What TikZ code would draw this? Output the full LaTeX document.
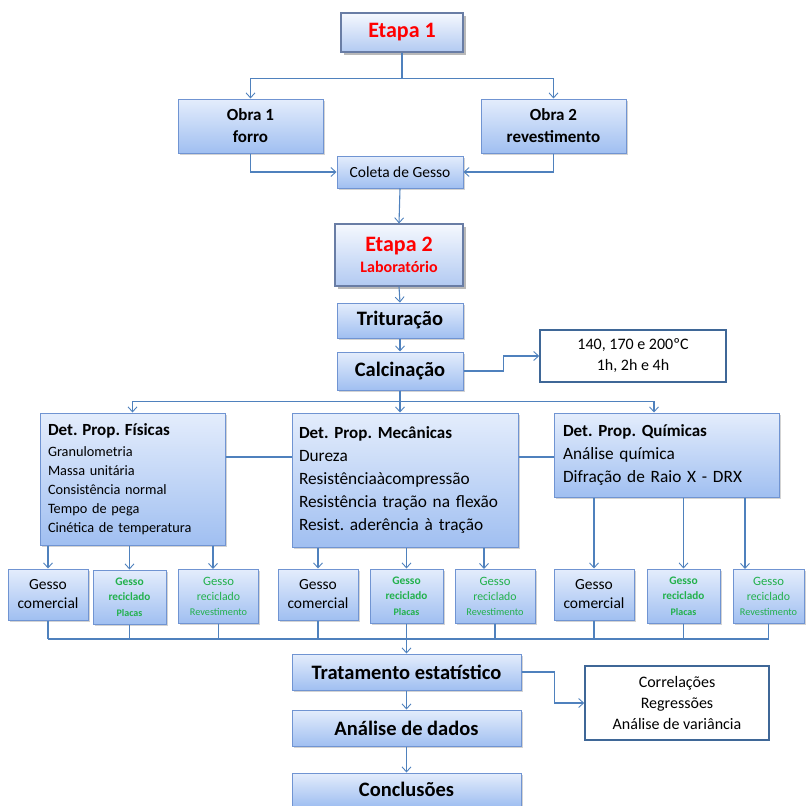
\documentclass[tikz,border=0pt]{standalone}
\usepackage{fontspec}
\setmainfont{Carlito}
\frenchspacing
\usetikzlibrary{arrows.meta,shadows}
\definecolor{lineblue}{RGB}{79,129,189}
\definecolor{boxborder}{RGB}{112,148,210}
\definecolor{boxtop}{RGB}{228,237,252}
\definecolor{boxbot}{RGB}{160,191,241}
\definecolor{etapaborder}{RGB}{105,125,165}
\definecolor{etapatop}{RGB}{245,248,254}
\definecolor{etapabot}{RGB}{178,202,242}
\definecolor{gessogreen}{RGB}{34,177,76}
\definecolor{titlered}{RGB}{255,0,0}
\newcommand{\placastext}{{\fontsize{11.5}{15}\selectfont Gesso}\\reciclado\\{\fontsize{10}{15}\selectfont Placas}}
\newcommand{\revtext}{{\fontsize{12.7}{15}\selectfont Gesso}\\{\fontsize{11.8}{15.5}\selectfont reciclado}\\{\fontsize{10.3}{14}\selectfont Revestimento}}
\tikzset{
  bbox/.style={draw=boxborder, line width=1pt, top color=boxtop, bottom color=boxbot,
    drop shadow={shadow xshift=1.5pt, shadow yshift=-1.5pt, opacity=0.35},
    inner sep=2pt, align=center},
  etapabox/.style={draw=etapaborder, line width=1.2pt, top color=etapatop, bottom color=etapabot,
    drop shadow={shadow xshift=2.5pt, shadow yshift=-2.5pt, opacity=0.55},
    inner sep=2pt, align=center, text=titlered},
  whitebox/.style={draw=lineblue!80!black, line width=1.5pt, fill=white,
    drop shadow={shadow xshift=1pt, shadow yshift=-1pt, opacity=0.25},
    align=center, inner sep=2pt},
  propbox/.style={bbox, align=left, inner sep=0pt},
  greenbox/.style={bbox, text=gessogreen},
  line/.style={draw=lineblue, line width=1.1pt},
  arr/.style={line, -{Straight Barb[length=5pt,width=9pt,line width=0.9pt]}},
  gcom/.style={bbox, minimum width=80pt, minimum height=51pt, font=\fontsize{15.5}{19}\selectfont},
  gpl/.style={greenbox, minimum width=73pt, minimum height=54pt, font=\fontsize{11.2}{15.5}\selectfont\bfseries},
  grv/.style={greenbox, minimum width=80pt, minimum height=54pt, font=\fontsize{11.5}{15}\selectfont},
  titlefont/.style={font=\fontsize{20.5}{24}\selectfont\bfseries},
}
\begin{document}
\begin{tikzpicture}[x=1pt,y=-1pt]
\useasboundingbox (0,0) rectangle (806,806);

% top
\node[etapabox, minimum width=122pt, minimum height=39pt, font=\fontsize{22}{26}\selectfont\bfseries] (etapa1) at (402,32.5) {Etapa 1};
\node[bbox, minimum width=145pt, minimum height=54pt, font=\fontsize{17}{22}\selectfont\bfseries] (obra1) at (250.5,126) {Obra 1\\forro};
\node[bbox, minimum width=145pt, minimum height=54pt, font=\fontsize{17}{22}\selectfont\bfseries] (obra2) at (553.5,126) {Obra 2\\revestimento};
\node[bbox, minimum width=126pt, minimum height=32pt, font=\fontsize{15.5}{18}\selectfont] (coleta) at (400,172) {Coleta de Gesso};
\node[etapabox, minimum width=128pt, minimum height=62pt, font=\fontsize{16}{18}\selectfont\bfseries] (etapa2) at (399,255)
  {{\fontsize{22}{26}\selectfont Etapa 2}\\[3pt]Laboratório};
\node[bbox, minimum width=126pt, minimum height=35pt, titlefont] (trit) at (400,320.5) {Trituração};
\node[bbox, minimum width=126pt, minimum height=38pt, titlefont] (calc) at (400,371) {Calcinação};
\node[whitebox, minimum width=186pt, minimum height=52pt, font=\fontsize{16}{21}\selectfont] (temp) at (633,356) {140, 170 e 200ºC\\1h, 2h e 4h};

% property boxes
\node[propbox, minimum width=185pt, minimum height=132pt, text width=169pt, font=\fontsize{14.3}{19}\selectfont] (fis) at (132.5,479)
  {{\fontsize{17}{19}\selectfont\bfseries Det. Prop. Físicas}\\[1.5pt]Granulometria\\Massa unitária\\Consistência normal\\Tempo de pega\\Cinética de temperatura};
\node[propbox, minimum width=226pt, minimum height=134pt, text width=212pt, font=\fontsize{17.3}{23}\selectfont] (mec) at (405,480)
  {{\fontsize{17}{19}\selectfont\bfseries Det. Prop. Mecânicas}\\Dureza\\Resistênciaàcompressão\\Resistência tração na flexão\\Resist. aderência à tração};
\node[propbox, minimum width=225pt, minimum height=84pt, text width=207pt, font=\fontsize{17.3}{23}\selectfont] (qui) at (666.5,455)
  {{\fontsize{17}{19}\selectfont\bfseries Det. Prop. Químicas}\\Análise química\\Difração de Raio X - DRX};

% sample boxes
\node[gcom] (gc1) at (48,594.5) {Gesso\\comercial};
\node[gpl] (rp1) at (129.5,597) {\placastext};
\node[grv] (rr1) at (218.5,596) {\revtext};
\node[gcom] (gc2) at (318,594.5) {Gesso\\comercial};
\node[gpl] (rp2) at (406.5,596) {\placastext};
\node[grv] (rr2) at (495,596) {\revtext};
\node[gcom] (gc3) at (594,594.5) {Gesso\\comercial};
\node[gpl] (rp3) at (683.5,596) {\placastext};
\node[grv, minimum width=71pt] (rr3) at (768.5,596.5) {\revtext};

% bottom chain
\node[bbox, minimum width=229pt, minimum height=36pt, titlefont] (trat) at (406.5,672) {Tratamento estatístico};
\node[bbox, minimum width=229pt, minimum height=36pt, titlefont] (anal) at (406.5,728) {Análise de dados};
\node[bbox, minimum width=229pt, minimum height=33pt, titlefont] (concl) at (406.5,789.5) {Conclusões};
\node[whitebox, minimum width=184pt, minimum height=74pt, font=\fontsize{16}{21}\selectfont] (corr) at (677,703) {Correlações\\Regressões\\Análise de variância};

% connectors top
\draw[arr] (etapa1.south) -- ++(0,26) -| (obra1.north);
\draw[arr] (etapa1.south) -- ++(0,26) -| (obra2.north);
\draw[arr] (obra1.south) |- (coleta.west);
\draw[arr] (obra2.south) |- (coleta.east);
\draw[arr] (coleta.south) -- (etapa2.north);
\draw[arr] (etapa2.south) -- (trit.north);
\draw[arr] (trit.south) -- (calc.north);
\draw[arr] (calc.east) -- ++(40,0) |- (temp.west);

% calcination bus
\draw[arr] (calc.south) -- ++(0,11) -| (fis.north);
\draw[arr] (calc.south) -- (calc.south |- mec.north);
\draw[arr] (calc.south) -- ++(0,11) -| ([xshift=-12.5pt]qui.north);
\coordinate (hy) at (0,457);
\draw[line] (fis.east |- hy) -- (mec.west |- hy);
\draw[line] (mec.east |- hy) -- (qui.west |- hy);

% property -> samples
\coordinate (t3) at (213,569);
\coordinate (t6) at (484,569);
\coordinate (t9) at (745,569);
\draw[arr] (gc1.north |- fis.south) -- (gc1.north);
\draw[arr] (rp1.north |- fis.south) -- (rp1.north);
\draw[arr] (t3 |- fis.south) -- (t3);
\draw[arr] (gc2.north |- mec.south) -- (gc2.north);
\draw[arr] (rp2.north |- mec.south) -- (rp2.north);
\draw[arr] (t6 |- mec.south) -- (t6);
\draw[arr] (gc3.north |- qui.south) -- (gc3.north);
\draw[arr] (rp3.north |- qui.south) -- (rp3.north);
\draw[arr] (t9 |- qui.south) -- (t9);

% samples -> bus
\coordinate (bus) at (0,639);
\foreach \b in {gc1,rp1,rr1,gc2,rp2,rr2,gc3,rp3,rr3}
  \draw[line] (\b.south) -- (\b.south |- bus);
\draw[line] (gc1.south |- bus) -- (rr3.south |- bus);
\draw[arr] (trat.north |- bus) -- (trat.north);

% bottom chain
\draw[arr] (trat.east) -- ++(33,0) |- (corr.west);
\draw[arr] (trat.south) -- (anal.north);
\draw[arr] (anal.south) -- (concl.north);
\end{tikzpicture}
\end{document}
